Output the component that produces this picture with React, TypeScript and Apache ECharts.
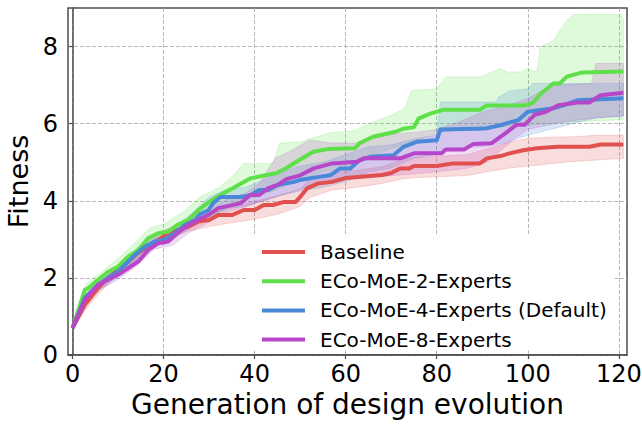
import React, { useEffect, useRef } from "react";
import * as echarts from "echarts";

// Axis ticks
const generationTicks = [0, 20, 40, 60, 80, 100, 120];
const fitnessTicks = [0, 2, 4, 6, 8];

const seriesNames = [
  "Baseline",
  "ECo-MoE-2-Experts",
  "ECo-MoE-4-Experts (Default)",
  "ECo-MoE-8-Experts",
];
const seriesColors = ["#e0504f", "#5fe04a", "#4a88d8", "#b846c9"];

// [generation, fitness] — mean curves
const baselineMean = [
  [0, 0.7], [2.7, 1.3], [5.6, 1.74], [7.8, 2.0], [10, 2.21], [12.2, 2.42], [14.4, 2.65],
  [16.6, 2.81], [18.8, 2.98], [21, 3.16], [23, 3.24], [25.4, 3.33], [27.6, 3.46], [30, 3.5],
  [32, 3.63], [35, 3.63], [37.6, 3.76], [40, 3.76], [42, 3.89], [44, 3.89], [46.5, 3.97],
  [49, 3.97], [50, 4.1], [51.5, 4.32], [54, 4.45], [57, 4.49], [60, 4.59], [68, 4.67],
  [70, 4.72], [72, 4.84], [74, 4.84], [75, 4.9], [80, 4.9], [83.6, 4.97], [89.5, 4.97],
  [91, 5.1], [94, 5.16], [96, 5.23], [99, 5.31], [102, 5.36], [106.6, 5.4], [113.6, 5.4],
  [116, 5.46], [121, 5.46],
];
const twoExpertsMean = [
  [0, 0.7], [2.7, 1.69], [3.5, 1.74], [5.6, 1.95], [7.8, 2.16], [10, 2.29], [12.2, 2.55],
  [14.4, 2.72], [16.6, 3.03], [18.8, 3.16], [21, 3.2], [23, 3.37], [25.4, 3.5], [27.6, 3.75],
  [29.8, 3.95], [32.4, 4.15], [35.3, 4.33], [39, 4.58], [44.9, 4.72], [47, 4.85], [49, 5.0],
  [52.9, 5.27], [56, 5.34], [62, 5.36], [63, 5.49], [66, 5.66], [71, 5.79], [72.7, 5.87],
  [75, 5.91], [76, 6.13], [78.6, 6.26], [81.5, 6.36], [89.5, 6.36], [91, 6.47], [99, 6.47],
  [101, 6.53], [103, 6.79], [105.6, 7.04], [107, 7.04], [108.6, 7.22], [112, 7.33],
  [121, 7.35],
];
const fourExpertsMean = [
  [0, 0.7], [2.7, 1.48], [5.6, 1.82], [7.8, 2.0], [10, 2.16], [12.2, 2.42], [13.7, 2.6],
  [15.9, 2.81], [18.1, 2.94], [20.3, 3.0], [22.5, 3.16], [24.7, 3.37], [26.9, 3.5],
  [28, 3.65], [29.8, 3.75], [31, 3.95], [32.5, 4.1], [37, 4.1], [39, 4.14], [41, 4.28],
  [43, 4.28], [45, 4.41], [48.7, 4.49], [50, 4.54], [54, 4.62], [56.6, 4.66], [58.8, 4.84],
  [61, 4.84], [63, 5.05], [65.4, 5.14], [70.5, 5.18], [72.7, 5.4], [75.6, 5.53], [80, 5.57],
  [80.8, 5.85], [89, 5.87], [91, 5.88], [94.6, 5.98], [98, 6.1], [100, 6.31], [105.6, 6.4],
  [108, 6.48], [111, 6.61], [121, 6.66],
];
const eightExpertsMean = [
  [0, 0.7], [2.7, 1.43], [5.6, 1.82], [7.8, 1.95], [10, 2.08], [12.2, 2.25], [14.4, 2.42],
  [16.6, 2.72], [18.8, 2.9], [21, 2.94], [23, 3.16], [25.4, 3.37], [27.6, 3.5], [29.8, 3.63],
  [32, 3.81], [37, 3.94], [39, 4.15], [41, 4.15], [43, 4.33], [45, 4.41], [47, 4.56],
  [50, 4.66], [53, 4.84], [57, 4.97], [62.5, 5.01], [64, 5.1], [72, 5.1], [75, 5.23],
  [81, 5.23], [82, 5.33], [86, 5.33], [88, 5.47], [92, 5.49], [94.6, 5.71], [97.5, 5.97],
  [99.3, 5.97], [101.5, 6.23], [104, 6.31], [106.7, 6.48], [111, 6.55], [113.5, 6.55],
  [116, 6.74], [121, 6.8],
];

// Spread bands (upper / lower edges)
const baselineUpper = [
  [0, 0.7], [3, 1.42], [6, 1.85], [10, 2.34], [15, 2.83], [20, 3.24], [25, 3.45], [30, 3.67],
  [35, 3.82], [40, 3.98], [45, 4.13], [50, 4.3], [52, 4.55], [57, 4.74], [63, 4.8], [68, 4.88],
  [72, 5.06], [75, 5.13], [80, 5.15], [87, 5.2], [91, 5.35], [96, 5.52], [100, 5.62],
  [105, 5.65], [110, 5.66], [115, 5.7], [121, 5.7],
];
const baselineLower = [
  [0, 0.7], [3, 1.2], [6, 1.62], [10, 2.1], [15, 2.55], [20, 2.95], [25, 3.2], [30, 3.33],
  [35, 3.43], [40, 3.52], [45, 3.65], [50, 3.85], [52, 4.08], [57, 4.28], [63, 4.36],
  [68, 4.45], [72, 4.56], [75, 4.6], [80, 4.62], [87, 4.66], [91, 4.75], [96, 4.85],
  [100, 4.9], [110, 5.02], [121, 5.1],
];
const twoExpertsUpper = [
  [0, 0.7], [3, 1.85], [6, 2.12], [10, 2.5], [14, 2.95], [17, 3.3], [20, 3.4], [24, 3.68],
  [28, 4.1], [32.4, 4.36], [35.3, 4.66], [37.6, 4.97], [44, 4.97], [45.5, 5.49], [50, 5.53],
  [56, 5.75], [62, 5.82], [65, 6.0], [70, 6.22], [73, 6.4], [74.5, 6.86], [80, 6.9],
  [82, 7.21], [89.5, 7.21], [94, 7.43], [95.5, 7.34], [98.5, 7.34], [100, 7.43], [102, 7.34],
  [102.7, 7.98], [105.6, 8.16], [108.6, 8.68], [110, 8.83], [120.4, 8.84], [121, 8.7],
];
const twoExpertsLower = [
  [0, 0.7], [3, 1.6], [6, 1.8], [10, 2.1], [14, 2.5], [17, 2.8], [20, 3.0], [24, 3.2],
  [28, 3.45], [32, 3.7], [36, 3.9], [40, 4.1], [45, 4.3], [50, 4.55], [55, 4.75], [60, 4.85],
  [65, 5.1], [70, 5.35], [75, 5.55], [80, 5.75], [85, 5.85], [90, 5.9], [95, 5.92],
  [100, 5.95], [105, 6.0], [110, 6.05], [121, 6.1],
];
const fourExpertsUpper = [
  [0, 0.7], [3, 1.6], [6, 1.95], [10, 2.3], [14, 2.75], [18, 3.08], [22, 3.3], [26, 3.65],
  [30, 4.1], [34, 4.3], [38, 4.35], [42, 4.55], [46, 4.75], [50, 4.9], [55, 5.0], [60, 5.2],
  [65, 5.4], [70, 5.45], [75, 5.6], [80, 5.7], [80.8, 6.56], [93, 6.56], [93.6, 6.69],
  [96, 6.85], [100, 6.9], [101, 7.04], [121, 7.04],
];
const fourExpertsLower = [
  [0, 0.7], [3, 1.38], [6, 1.7], [10, 2.03], [14, 2.45], [18, 2.8], [22, 3.0], [26, 3.3],
  [30, 3.6], [34, 3.8], [38, 3.85], [42, 4.0], [46, 4.15], [50, 4.25], [55, 4.35], [60, 4.5],
  [65, 4.75], [70, 4.85], [75, 5.1], [80, 5.2], [81, 5.35], [90, 5.4], [95, 5.5], [100, 5.7],
  [105, 5.85], [110, 6.0], [115, 6.15], [121, 6.2],
];
const eightExpertsUpper = [
  [0, 0.7], [3, 1.55], [6, 1.95], [10, 2.2], [14, 2.55], [18, 3.02], [22, 3.15], [26, 3.55],
  [30, 3.8], [34, 4.05], [38, 4.2], [41, 4.45], [44.5, 5.1], [48, 5.3], [52, 5.57], [57, 5.5],
  [62, 5.49], [67.5, 5.7], [76.6, 5.79], [80, 5.85], [85, 6.05], [90, 6.3], [95, 6.45],
  [100, 6.65], [103, 6.85], [105, 7.0], [114, 7.04], [115, 7.56], [121, 7.56],
];
const eightExpertsLower = [
  [0, 0.7], [3, 1.3], [6, 1.7], [10, 1.96], [14, 2.3], [18, 2.75], [22, 2.85], [26, 3.2],
  [30, 3.45], [34, 3.7], [38, 3.85], [42, 4.0], [46, 4.15], [50, 4.3], [55, 4.5], [60, 4.55],
  [65, 4.6], [70, 4.65], [75, 4.7], [80, 4.75], [87, 4.85], [91, 5.0], [94, 5.3], [97, 5.6],
  [100, 5.85], [104, 5.95], [108, 6.05], [115, 6.15], [121, 6.2],
];

const means = [baselineMean, twoExpertsMean, fourExpertsMean, eightExpertsMean];
const uppers = [baselineUpper, twoExpertsUpper, fourExpertsUpper, eightExpertsUpper];
const lowers = [baselineLower, twoExpertsLower, fourExpertsLower, eightExpertsLower];

const FONT = "DejaVu Sans";

function hexToRgba(hex: string, a: number) {
  const n = parseInt(hex.slice(1), 16);
  return `rgba(${(n >> 16) & 255},${(n >> 8) & 255},${n & 255},${a})`;
}

function bandSeries(i: number) {
  const color = seriesColors[i];
  const upper = uppers[i];
  const lower = lowers[i];
  return {
    type: "custom",
    name: seriesNames[i] + " spread",
    silent: true,
    z: 1,
    data: [[0, 0]],
    encode: { x: 0, y: 1 },
    renderItem: (_params: any, api: any) => {
      const pts = [
        ...upper.map((p) => api.coord(p)),
        ...lower.slice().reverse().map((p) => api.coord(p)),
      ];
      return {
        type: "polygon",
        shape: { points: pts },
        style: {
          fill: hexToRgba(color, 0.2),
          stroke: hexToRgba(color, 0.2),
          lineWidth: 1,
        },
      };
    },
  };
}

function lineSeries(i: number) {
  return {
    type: "line",
    name: seriesNames[i],
    data: means[i],
    color: seriesColors[i],
    showSymbol: false,
    symbol: "none",
    z: 3 + i,
    lineStyle: { width: 4, color: seriesColors[i], join: "round" },
  };
}

export default function App() {
  const ref = useRef<HTMLDivElement>(null);

  useEffect(() => {
    if (!ref.current) return;
    const chart = echarts.init(ref.current, undefined, { renderer: "svg" });
    const axisColor = "#4d4d4d";
    chart.setOption({
      animation: false,
      backgroundColor: "#ffffff",
      textStyle: { fontFamily: FONT },
      grid: {
        left: 68,
        right: 15,
        top: 8,
        bottom: 69,
        outerBoundsMode: "none",
        containLabel: false,
        show: true,
        borderColor: axisColor,
        borderWidth: 1.5,
        backgroundColor: "transparent",
      },
      xAxis: {
        type: "value",
        min: -1,
        max: 121.8,
        name: "Generation of design evolution",
        nameLocation: "middle",
        nameGap: 35,
        nameTextStyle: { fontFamily: FONT, fontSize: 28, color: "#000" },
        axisLine: { show: true, lineStyle: { color: axisColor, width: 1.5 } },
        axisTick: {
          show: true,
          length: 4,
          customValues: generationTicks,
          lineStyle: { color: axisColor, width: 1.2 },
        },
        axisLabel: {
          customValues: generationTicks,
          fontFamily: FONT,
          fontSize: 24,
          color: "#000",
          margin: 7,
        },
        splitLine: {
          show: true,
          lineStyle: { color: "#b0b0b0", width: 0.9, type: [4, 2] },
        },
      },
      yAxis: {
        type: "value",
        min: 0,
        max: 9,
        name: "Fitness",
        nameLocation: "middle",
        nameGap: 30,
        nameTextStyle: { fontFamily: FONT, fontSize: 27, color: "#000" },
        axisLine: { show: true, lineStyle: { color: axisColor, width: 1.5 } },
        axisTick: {
          show: true,
          length: 4,
          customValues: fitnessTicks,
          lineStyle: { color: axisColor, width: 1.2 },
        },
        axisLabel: {
          customValues: fitnessTicks,
          fontFamily: FONT,
          fontSize: 24,
          color: "#000",
          margin: 10,
        },
        splitLine: {
          show: true,
          lineStyle: { color: "#b0b0b0", width: 0.9, type: [4, 2] },
        },
      },
      legend: {
        show: true,
        orient: "vertical",
        left: 248,
        top: 235,
        padding: [6, 8, 0, 14],
        backgroundColor: "#ffffff",
        itemWidth: 43,
        itemHeight: 4,
        itemGap: 7.2,
        icon: "rect",
        selectedMode: false,
        data: seriesNames,
        textStyle: {
          fontFamily: FONT,
          fontSize: 20,
          color: "#000",
          lineHeight: 22,
          padding: [0, 0, 0, 10],
        },
      },
      series: [
        ...seriesNames.map((_, i) => bandSeries(i)),
        ...seriesNames.map((_, i) => lineSeries(i)),
      ],
    });
    return () => chart.dispose();
  }, []);

  return (
    <div
      ref={ref}
      style={{ width: 642, height: 424, position: "absolute", left: 0, top: 0 }}
    />
  );
}
